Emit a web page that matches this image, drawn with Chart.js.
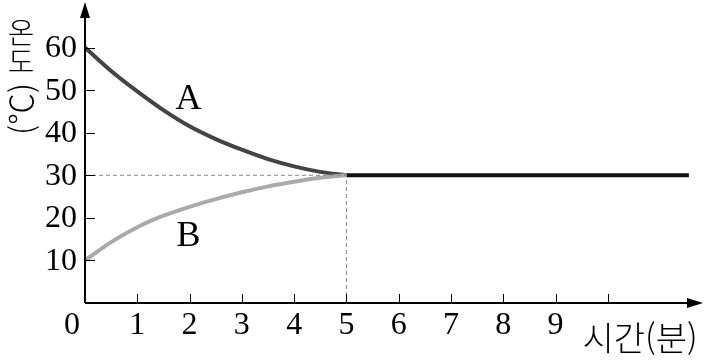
<!DOCTYPE html>
<html lang="ko">
<head>
<meta charset="utf-8">
<title>온도 변화</title>
<script src="https://cdn.jsdelivr.net/npm/chart.js@4/dist/chart.umd.min.js"></script>
<style>
  html, body { margin: 0; padding: 0; background: #fff; }
  canvas { display: block; }
</style>
</head>
<body>
<canvas id="tempChart" width="707" height="360"></canvas>
<script>
// 시간(분)
const timeA = [0, 0.5, 1, 1.5, 2, 2.5, 3, 3.5, 4, 4.5, 5];
const tempA = [60, 54.5, 49.7, 45.3, 41.5, 38.5, 36, 33.8, 32.1, 30.8, 30];
const timeB = [0, 0.5, 1, 1.5, 2, 2.5, 3, 3.5, 4, 4.5, 5];
const tempB = [10, 14.3, 17.8, 20.5, 22.6, 24.4, 26, 27.4, 28.5, 29.4, 30];
// 열평형 이후
const timeFlat = [5, 11.55];
const tempFlat = [30, 30];
// 눈금
const xTicks = [1, 2, 3, 4, 5, 6, 7, 8, 9, 10];
const xLabels = ['1', '2', '3', '4', '5', '6', '7', '8', '9'];
const yTicks = [10, 20, 30, 40, 50, 60];
const yLabels = ['10', '20', '30', '40', '50', '60'];

document.addEventListener('DOMContentLoaded', function() {
    const toPoints = (xs, ys) => xs.map((x, i) => ({ x: x, y: ys[i] }));
    const numFont = '32px "Liberation Serif", "DejaVu Serif", serif';

    // 축, 화살표, 눈금, 글자
    const axesPlugin = {
        id: 'axesPlugin',
        afterDatasetsDraw(chart) {
            const ctx = chart.ctx;
            const xs = chart.scales.x;
            const ys = chart.scales.y;
            const x0 = xs.getPixelForValue(0);
            const y0 = ys.getPixelForValue(0);
            const top = chart.chartArea.top;
            const right = chart.chartArea.right;
            ctx.save();
            ctx.strokeStyle = '#000';
            ctx.fillStyle = '#000';
            ctx.lineWidth = 2;
            ctx.beginPath();
            ctx.moveTo(x0, y0);
            ctx.lineTo(x0, top + 10);
            ctx.moveTo(x0, y0);
            ctx.lineTo(right - 10, y0);
            ctx.stroke();
            // 화살표
            ctx.beginPath();
            ctx.moveTo(x0, top - 3);
            ctx.lineTo(x0 - 5, top + 13);
            ctx.lineTo(x0 + 5, top + 13);
            ctx.closePath();
            ctx.fill();
            ctx.beginPath();
            ctx.moveTo(right, y0);
            ctx.lineTo(right - 16, y0 - 5);
            ctx.lineTo(right - 16, y0 + 5);
            ctx.closePath();
            ctx.fill();

            ctx.lineWidth = 1;
            ctx.beginPath();
            xTicks.forEach(v => {
                const px = Math.round(xs.getPixelForValue(v)) + 0.5;
                ctx.moveTo(px, y0);
                ctx.lineTo(px, y0 - 9);
            });
            yTicks.forEach(v => {
                const py = Math.round(ys.getPixelForValue(v)) + 0.5;
                ctx.moveTo(x0, py);
                ctx.lineTo(x0 + 10, py);
            });
            ctx.stroke();

            ctx.font = numFont;
            ctx.textBaseline = 'middle';
            ctx.textAlign = 'center';
            xLabels.forEach((t, i) => {
                ctx.fillText(t, xs.getPixelForValue(xTicks[i]), y0 + 23);
            });
            ctx.fillText('0', x0 - 13, y0 + 23);
            ctx.textAlign = 'right';
            yLabels.forEach((t, i) => {
                ctx.fillText(t, x0 - 8, ys.getPixelForValue(yTicks[i]) + 1);
            });

            // A, B
            ctx.font = '36px "Liberation Serif", "DejaVu Serif", serif';
            ctx.textAlign = 'center';
            ctx.fillText('A', xs.getPixelForValue(1.98), ys.getPixelForValue(47.8));
            ctx.fillText('B', xs.getPixelForValue(1.98), ys.getPixelForValue(15.7));

            // 축 제목
            ctx.font = '300 34px "Noto Sans CJK KR", sans-serif';
            ctx.fillText('시간(분)', 640, y0 + 35);
            ctx.font = '300 29px "Noto Sans CJK KR", sans-serif';
            ctx.fillText('온', 21, 33);
            ctx.fillText('도', 21, 62);
            ctx.font = '300 32px "Noto Sans CJK KR", sans-serif';
            ctx.translate(21, 109);
            ctx.rotate(-Math.PI / 2);
            ctx.fillText('(℃)', 0, 0);
            ctx.restore();
        }
    };

    const ctx = document.getElementById('tempChart').getContext('2d');
    const tempChart = new Chart(ctx, {
        type: 'line',
        data: {
            datasets: [
                {
                    label: 'guideH',
                    data: toPoints([0, 5], [30, 30]),
                    borderColor: '#888',
                    borderWidth: 1,
                    borderDash: [4, 3],
                    pointRadius: 0
                },
                {
                    label: 'guideV',
                    data: toPoints([5, 5], [0, 30]),
                    borderColor: '#888',
                    borderWidth: 1,
                    borderDash: [4, 3],
                    pointRadius: 0
                },
                {
                    label: 'B',
                    data: toPoints(timeB, tempB),
                    borderColor: '#aaaaaa',
                    borderWidth: 4,
                    cubicInterpolationMode: 'monotone',
                    pointRadius: 0
                },
                {
                    label: 'A',
                    data: toPoints(timeA, tempA),
                    borderColor: '#444444',
                    borderWidth: 4,
                    cubicInterpolationMode: 'monotone',
                    pointRadius: 0
                },
                {
                    label: 'flat',
                    data: toPoints(timeFlat, tempFlat),
                    borderColor: '#111111',
                    borderWidth: 4,
                    pointRadius: 0
                }
            ]
        },
        options: {
            responsive: false,
            animation: false,
            devicePixelRatio: 1,
            layout: { padding: { left: 85, right: 4, top: 5, bottom: 57 } },
            plugins: {
                legend: { display: false },
                tooltip: { enabled: false }
            },
            scales: {
                x: { type: 'linear', min: 0, max: 11.82, display: false },
                y: { type: 'linear', min: 0, max: 70, display: false }
            }
        },
        plugins: [axesPlugin]
    });
});
</script>
</body>
</html>
